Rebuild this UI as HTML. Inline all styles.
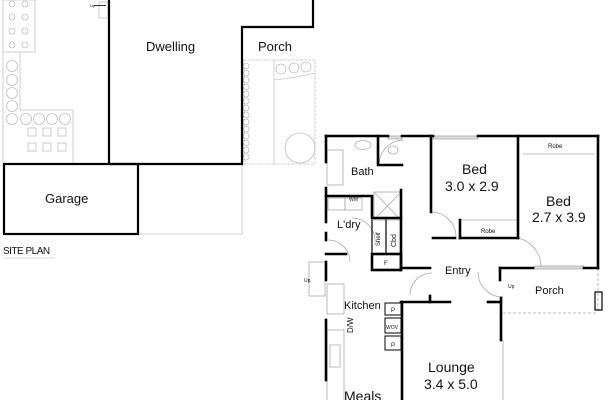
<!DOCTYPE html>
<html><head><style>
html,body{margin:0;padding:0;background:#fff;width:609px;height:400px;overflow:hidden}
svg text{font-family:"Liberation Sans",sans-serif;fill:#111}
</style></head><body>
<svg width="609" height="400" viewBox="0 0 609 400" xmlns="http://www.w3.org/2000/svg">
<g fill="none" stroke="#c4c4c4" stroke-width="0.8">
<rect x="3" y="0" width="32" height="52"/>
<polyline points="20,52 20,110 73,110 73,164"/>
<line x1="3" y1="52" x2="3" y2="164"/>
<line x1="138" y1="234" x2="242" y2="234"/>
<line x1="242" y1="164" x2="242" y2="234"/>
<rect x="244" y="60" width="71" height="104" stroke-dasharray="3,1"/>
<line x1="274" y1="60" x2="274" y2="164"/>
<path d="M274,80 Q295,78 315,73"/>
<rect x="99" y="2" width="9" height="16"/>
</g>
<g fill="none" stroke="#aaa" stroke-width="0.6">
<circle cx="12" cy="4" r="3"/><circle cx="25" cy="4" r="3"/>
<circle cx="12" cy="17" r="3"/><circle cx="25" cy="17" r="3"/>
<circle cx="12" cy="31" r="3"/><circle cx="25" cy="31" r="3"/>
<circle cx="12" cy="45" r="3"/><circle cx="25" cy="45" r="3"/>
<circle cx="12" cy="66" r="5.5"/><circle cx="12" cy="80" r="5.5"/><circle cx="12" cy="93" r="5.5"/><circle cx="12" cy="106" r="5.5"/>
<circle cx="12" cy="119" r="5.5"/><circle cx="26" cy="119" r="5.5"/><circle cx="39" cy="119" r="5.5"/><circle cx="52" cy="119" r="5.5"/><circle cx="65" cy="119" r="5.5"/>
<rect x="28" y="128" width="8" height="8"/><rect x="43" y="128" width="8" height="8"/><rect x="58" y="128" width="8" height="8"/>
<rect x="28" y="143" width="8" height="8"/><rect x="43" y="143" width="8" height="8"/><rect x="58" y="143" width="8" height="8"/>
<circle cx="246" cy="66" r="3"/><circle cx="246" cy="73" r="3"/><circle cx="246" cy="80" r="3"/><circle cx="246" cy="87" r="3"/><circle cx="246" cy="94" r="3"/><circle cx="246" cy="101" r="3"/><circle cx="246" cy="108" r="3"/><circle cx="246" cy="115" r="3"/><circle cx="246" cy="122" r="3"/><circle cx="246" cy="129" r="3"/><circle cx="246" cy="136" r="3"/><circle cx="246" cy="143" r="3"/><circle cx="246" cy="150" r="3"/><circle cx="246" cy="157" r="3"/>
<circle cx="281" cy="69" r="5"/><circle cx="294" cy="68" r="5"/><circle cx="306" cy="67" r="5"/>
<circle cx="300" cy="148" r="15"/>
</g>
<g stroke="#000" stroke-width="2.2" fill="none">
<polyline points="109,0 109,164 242,164 242,27 313,27 313,0"/>
<rect x="4" y="164" width="134" height="70"/>
</g>
<text x="90" y="7" font-size="4">Up</text><line x1="94" y1="5.5" x2="106" y2="5.5" stroke="#000" stroke-width="0.8"/>
<text x="146" y="51" font-size="13">Dwelling</text>
<text x="258" y="51" font-size="13">Porch</text>
<text x="45" y="203" font-size="13">Garage</text>
<text x="3" y="254" font-size="10" letter-spacing="-0.5">SITE PLAN</text>
<line x1="3" y1="258" x2="54" y2="258" stroke="#ccc" stroke-width="0.8"/>

<g fill="none" stroke="#aaa" stroke-width="0.8">
<rect x="327" y="150" width="16" height="35"/>
<ellipse cx="363" cy="145" rx="8" ry="4.5"/>
<ellipse cx="393" cy="150" rx="5" ry="4"/>
<rect x="374" y="192" width="27" height="28"/><line x1="374" y1="192" x2="401" y2="220"/><line x1="401" y1="192" x2="374" y2="220"/>
<rect x="328" y="198" width="17" height="12"/><rect x="345" y="198" width="17" height="12"/>
<rect x="309" y="262" width="16" height="34"/>
<rect x="327" y="284" width="17" height="30"/>
<rect x="327" y="330" width="17" height="85"/>
<rect x="330" y="345" width="10" height="22"/>
<line x1="503" y1="313" x2="598" y2="313" stroke-dasharray="3,2"/>
<line x1="598" y1="268" x2="598" y2="313" stroke-dasharray="3,2"/>
<line x1="503" y1="340" x2="503" y2="400"/>
<rect x="595" y="292" width="7" height="18" stroke="#000" stroke-width="1.2"/>
<path d="M379,165 A25,25 0 0 1 404,140"/>
<path d="M431,212 A25,25 0 0 1 456,237"/>
<path d="M352,218 A23,23 0 0 1 375,241" />
<path d="M328,240 A22,22 0 0 1 350,262"/>
<path d="M410,295 A22,22 0 0 1 432,273"/>
<path d="M518,238 A30,30 0 0 1 541,268"/>
<path d="M478,272 A25,25 0 0 0 503,297"/>
<rect x="433" y="136" width="45" height="3" fill="#ddd"/>
<rect x="388" y="136" width="14" height="3" fill="#ddd"/>
<rect x="534" y="266" width="50" height="3" fill="#ddd"/>
<line x1="523" y1="154" x2="595" y2="154"/>
<line x1="460" y1="220" x2="518" y2="220"/>
</g>
<g stroke="#000" stroke-width="2.6" fill="none" stroke-linecap="square">
<line x1="326" y1="136" x2="388" y2="136"/><line x1="402" y1="136" x2="433" y2="136"/><line x1="478" y1="136" x2="598" y2="136"/>
<line x1="326" y1="136" x2="326" y2="162"/><line x1="326" y1="188" x2="326" y2="222"/><line x1="326" y1="233" x2="326" y2="240"/><line x1="326" y1="262" x2="326" y2="280"/><line x1="326" y1="320" x2="326" y2="380"/>
<line x1="598" y1="136" x2="598" y2="268"/>
<line x1="584" y1="268" x2="598" y2="268"/><line x1="500" y1="268" x2="533" y2="268"/>
<polyline points="378,136 378,165 402,165"/>
<line x1="431" y1="136" x2="431" y2="212"/>
<line x1="518" y1="136" x2="518" y2="238"/>
<polyline points="460,238 518,238"/><line x1="460" y1="220" x2="460" y2="238"/>
<line x1="433" y1="238" x2="455" y2="238"/>
<polyline points="326,196 372,196 372,218 401,218 401,190"/>
<rect x="372" y="254" width="29" height="16"/>
<line x1="372" y1="220" x2="372" y2="252" stroke-width="1.2"/>
<line x1="386" y1="220" x2="386" y2="252" stroke-width="1.2"/>
<line x1="401" y1="218" x2="401" y2="270"/>
<line x1="401" y1="268" x2="430" y2="268"/>
<line x1="326" y1="254" x2="346" y2="254"/>
<line x1="401" y1="302" x2="450" y2="302"/><line x1="430" y1="296" x2="430" y2="302"/>
<line x1="402" y1="302" x2="402" y2="400"/>
<line x1="488" y1="302" x2="501" y2="302"/><line x1="501" y1="298" x2="501" y2="340"/>
<line x1="500" y1="268" x2="500" y2="280"/>
</g>
<g stroke="#000" stroke-width="1" fill="none">
<rect x="385" y="303" width="16" height="12"/><rect x="385" y="318" width="16" height="15"/><rect x="385" y="336" width="16" height="14"/>
</g>
<text x="351" y="175" font-size="11">Bath</text>
<text x="462" y="174" font-size="14">Bed</text>
<text x="445" y="191" font-size="14">3.0 x 2.9</text>
<text x="546" y="206" font-size="14">Bed</text>
<text x="532" y="222" font-size="14">2.7 x 3.9</text>
<text x="548" y="148" font-size="6">Robe</text>
<text x="481" y="233" font-size="6">Robe</text>
<text x="349" y="201" font-size="5">WM</text>
<text x="337" y="228" font-size="11">L'dry</text>
<text x="380" y="246" font-size="6" transform="rotate(-90 380 246)">Shelf</text>
<text x="396" y="247" font-size="7" transform="rotate(-90 396 247)">Cbd</text>
<text x="384" y="265" font-size="6">F</text>
<text x="445" y="274" font-size="11">Entry</text>
<text x="535" y="294" font-size="11">Porch</text>
<text x="304" y="282" font-size="5">Up</text><text x="508" y="288" font-size="5">Up</text>
<text x="344" y="309" font-size="11">Kitchen</text>
<text x="353" y="333" font-size="8" transform="rotate(-90 353 333)">D/W</text>
<text x="391" y="312" font-size="6">P</text>
<text x="386" y="329" font-size="5">WOV</text>
<text x="391" y="347" font-size="6">P</text>
<text x="428" y="372" font-size="14">Lounge</text>
<text x="424" y="389" font-size="14">3.4 x 5.0</text>
<text x="344" y="401" font-size="14">Meals</text>
</svg>
</body></html>
